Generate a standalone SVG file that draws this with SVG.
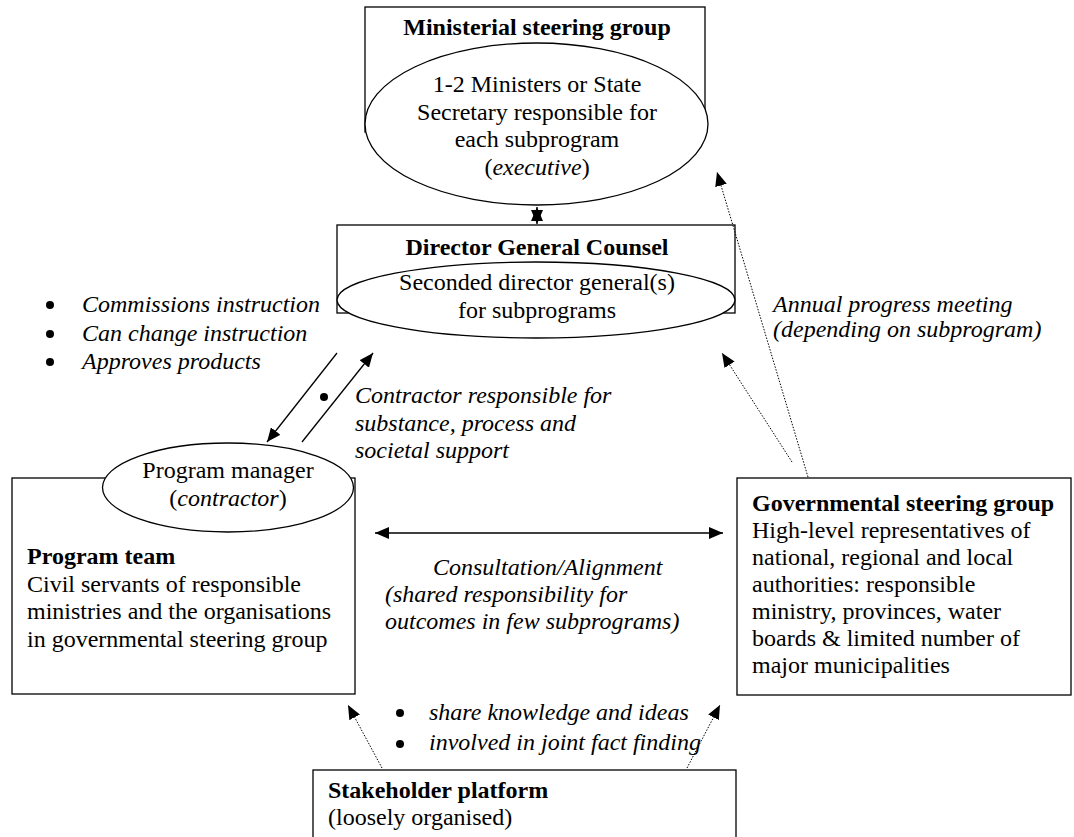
<svg xmlns="http://www.w3.org/2000/svg" width="1074" height="837" viewBox="0 0 1074 837">
  <style>
    text { font-family: "Liberation Serif", "Times New Roman", serif; font-size: 24px; fill: #000; }
    .b { font-weight: bold; }
    .i { font-style: italic; }
    .mid { text-anchor: middle; }
    .shape { fill: #fff; stroke: #000; stroke-width: 1.3; }
    .solid { stroke: #000; stroke-width: 1.3; fill: none; }
    .dot { stroke: #000; stroke-width: 1; stroke-dasharray: 1.5 1.5; fill: none; }
  </style>
  <defs>
    <marker id="ah" viewBox="0 0 14 12" refX="14" refY="6" markerWidth="14" markerHeight="12" markerUnits="userSpaceOnUse" orient="auto-start-reverse">
      <path d="M0,0 L14,6 L0,12 z" fill="#000"/>
    </marker>
  </defs>

  <!-- Ministerial steering group -->
  <g id="ministerial">
    <rect class="shape" x="365" y="7" width="340" height="125"/>
    <ellipse class="shape" cx="536.5" cy="124" rx="171.5" ry="81"/>
    <text class="b mid" x="537" y="35">Ministerial steering group</text>
    <text class="mid" x="537" y="92">1-2 Ministers or State</text>
    <text class="mid" x="537" y="119.5">Secretary responsible for</text>
    <text class="mid" x="537" y="147">each subprogram</text>
    <text class="mid" x="537" y="174.5">(<tspan class="i">executive</tspan>)</text>
  </g>

  <!-- Director General Counsel -->
  <g id="dg-counsel">
    <rect class="shape" x="337" y="225" width="398" height="88"/>
    <ellipse class="shape" cx="536" cy="300" rx="199" ry="38"/>
    <text class="b mid" x="537" y="255">Director General Counsel</text>
    <text class="mid" x="537" y="290">Seconded director general(s)</text>
    <text class="mid" x="537" y="318">for subprograms</text>
  </g>

  <!-- Program team with program manager -->
  <g id="program-team">
    <rect class="shape" x="12" y="478" width="343" height="216"/>
    <ellipse class="shape" cx="228" cy="487.5" rx="125.5" ry="44.5"/>
    <text class="mid" x="228" y="478">Program manager</text>
    <text class="mid" x="228" y="506">(<tspan class="i">contractor</tspan>)</text>
    <text class="b" x="27" y="564">Program team</text>
    <text x="27" y="591.6">Civil servants of responsible</text>
    <text x="27" y="619.2">ministries and the organisations</text>
    <text x="27" y="646.8">in governmental steering group</text>
  </g>

  <!-- Governmental steering group -->
  <g id="gov-steering">
    <rect class="shape" x="737" y="478" width="334" height="217"/>
    <text class="b" x="752" y="510.5">Governmental steering group</text>
    <text x="752" y="537.6">High-level representatives of</text>
    <text x="752" y="564.7">national, regional and local</text>
    <text x="752" y="591.8">authorities: responsible</text>
    <text x="752" y="618.9">ministry, provinces, water</text>
    <text x="752" y="646">boards &amp; limited number of</text>
    <text x="752" y="673.1">major municipalities</text>
  </g>

  <!-- Stakeholder platform -->
  <g id="stakeholder">
    <rect class="shape" x="313" y="770" width="423" height="80"/>
    <text class="b" x="328" y="798">Stakeholder platform</text>
    <text x="328" y="825">(loosely organised)</text>
  </g>

  <!-- Connectors -->
  <g id="connectors">
    <line class="solid" x1="537" y1="207" x2="537" y2="224" marker-start="url(#ah)" marker-end="url(#ah)"/>
    <line class="solid" x1="337" y1="353" x2="267" y2="442" marker-end="url(#ah)"/>
    <line class="solid" x1="302" y1="442" x2="373" y2="353" marker-end="url(#ah)"/>
    <line class="solid" x1="375" y1="533" x2="723" y2="533" marker-start="url(#ah)" marker-end="url(#ah)"/>
    <line class="dot" x1="808" y1="477" x2="717" y2="172" marker-end="url(#ah)"/>
    <line class="dot" x1="792" y1="462" x2="722" y2="353" marker-end="url(#ah)"/>
    <line class="dot" x1="382" y1="768" x2="348" y2="705" marker-end="url(#ah)"/>
    <line class="dot" x1="687" y1="768" x2="720" y2="705" marker-end="url(#ah)"/>
  </g>

  <!-- Connector labels -->
  <g id="labels">
    <circle cx="50" cy="305" r="4"/>
    <circle cx="50" cy="334" r="4"/>
    <circle cx="50" cy="362" r="4"/>
    <text class="i" x="82" y="312">Commissions instruction</text>
    <text class="i" x="82" y="341">Can change instruction</text>
    <text class="i" x="82" y="369">Approves products</text>

    <circle cx="324" cy="397" r="4"/>
    <text class="i" x="355" y="403">Contractor responsible for</text>
    <text class="i" x="355" y="430.5">substance, process and</text>
    <text class="i" x="355" y="458">societal support</text>

    <text class="i" x="773" y="312">Annual progress meeting</text>
    <text class="i" x="773" y="337">(depending on subprogram)</text>

    <text class="i" x="433" y="575">Consultation/Alignment</text>
    <text class="i" x="385" y="602">(shared responsibility for</text>
    <text class="i" x="385" y="629">outcomes in few subprograms)</text>

    <circle cx="400" cy="713" r="4"/>
    <circle cx="400" cy="744" r="4"/>
    <text class="i" x="429" y="720">share knowledge and ideas</text>
    <text class="i" x="429" y="750">involved in joint fact finding</text>
  </g>
</svg>
